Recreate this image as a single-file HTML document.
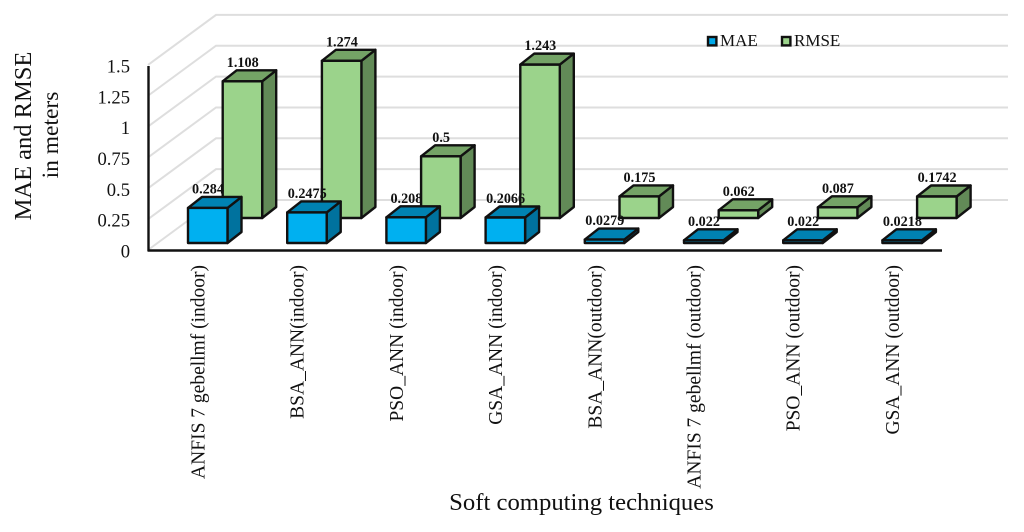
<!DOCTYPE html>
<html lang="en">
<head>
<meta charset="utf-8">
<title>MAE and RMSE of soft computing techniques</title>
<style>
html,body{margin:0;padding:0;background:#fff;width:1024px;height:532px;overflow:hidden}
svg{display:block}
text{font-family:"Liberation Serif",serif;fill:#111}
</style>
</head>
<body>
<svg id="chart" xmlns="http://www.w3.org/2000/svg" width="1024" height="532" viewBox="0 0 1024 532">
  <g id="grid"></g>
  <g id="bars"></g>
  <line x1="148.5" y1="66" x2="148.5" y2="251.5" stroke="#111" stroke-width="2.4"/>
  <line x1="148" y1="250.5" x2="942" y2="250.5" stroke="#111" stroke-width="2.4"/>
  <g id="ticks"></g>
  <g id="cats"></g>
  <g id="vals"></g>
  <g>
    <text transform="translate(31,136) rotate(-90)" text-anchor="middle" font-size="24.5">MAE and RMSE</text>
    <text transform="translate(58,135) rotate(-90)" text-anchor="middle" font-size="23.5">in meters</text>
  </g>
  <text x="581.5" y="510" text-anchor="middle" font-size="24.7">Soft computing techniques</text>
  <g>
    <g>
      <rect x="708" y="37" width="8.4" height="8.4" fill="#00A8E8" stroke="#111" stroke-width="2.4"/>
      <text x="720" y="46" font-size="17">MAE</text>
    </g>
    <g>
      <rect x="782" y="37" width="8.4" height="8.4" fill="#9BD38B" stroke="#111" stroke-width="2.4"/>
      <text x="794" y="46" font-size="17">RMSE</text>
    </g>
  </g>
</svg>
<script>
const categories = ["ANFIS 7 gebellmf (indoor)", "BSA_ANN(indoor)", "PSO_ANN (indoor)", "GSA_ANN (indoor)", "BSA_ANN(outdoor)", "ANFIS 7 gebellmf (outdoor)", "PSO_ANN (outdoor)", "GSA_ANN (outdoor)"];
const maeValues = [0.284, 0.2475, 0.208, 0.2066, 0.0279, 0.022, 0.022, 0.0218];
const rmseValues = [1.108, 1.274, 0.5, 1.243, 0.175, 0.062, 0.087, 0.1742];
const tickValues = [0, 0.25, 0.5, 0.75, 1, 1.25, 1.5];

const NS = "http://www.w3.org/2000/svg";
const UNIT = 123.4;
const CAT_STEP = 99.2;
const hOf = function (v) { return v * UNIT; };
const yFront = function (v) { return 250 - hOf(v); };
const yBack = function (v) { return 200 - hOf(v); };
const xCat = function (i) { return 188 + CAT_STEP * i; };

function el(parent, tag, attrs, text) {
  const n = document.createElementNS(NS, tag);
  for (const k in attrs) n.setAttribute(k, attrs[k]);
  if (text !== undefined) n.textContent = text;
  parent.appendChild(n);
  return n;
}

const grid = document.getElementById("grid");
tickValues.forEach(function (t) {
  const line = el(grid, "polyline", {
    points: "148," + yFront(t) + " 216," + yBack(t) + " 1008," + yBack(t),
    fill: "none", stroke: "#dedede", "stroke-width": 2
  });
  
  

  const label = el(document.getElementById("ticks"), "text", {
    x: 130, y: yFront(t) + 7.5, "text-anchor": "end", "font-size": 18.6
  }, String(t));
  
  
});

function drawBar(x, bottom, v, front, top, side) {
  const w = 39.5, dx = 14, dy = 11, h = hOf(v), t = bottom - h;
  const g = el(document.getElementById("bars"), "g", { stroke: "#111", "stroke-width": 2.4, "stroke-linejoin": "round" });
  el(g, "polygon", { points: [x + w, t, x + w + dx, t - dy, x + w + dx, bottom - dy, x + w, bottom].join(" "), fill: side });
  el(g, "polygon", { points: [x, t, x + dx, t - dy, x + w + dx, t - dy, x + w, t].join(" "), fill: top });
  el(g, "rect", { x: x, y: t, width: w, height: h, fill: front });
  return g;
}

const vals = document.getElementById("vals");
function drawValue(x, bottom, v) {
  const label = el(vals, "text", {
    x: x + 20, y: bottom - hOf(v) - 11 - 3.5, "text-anchor": "middle",
    "font-size": 14.2, "font-weight": "bold"
  }, String(v));
  return label;
}

rmseValues.forEach(function (v, i) {
  const bar = drawBar(xCat(i) + 34.7, 218, v, "#9BD38B", "#74A366", "#628A57");
  
  
});
maeValues.forEach(function (v, i) {
  const bar = drawBar(xCat(i), 243, v, "#00B0F0", "#0082B2", "#00729E");
  
  
});
rmseValues.forEach(function (v, i) {
  const label = drawValue(xCat(i) + 34.7, 218, v);
  
  
});
maeValues.forEach(function (v, i) {
  const label = drawValue(xCat(i), 243, v);
  
  
});

categories.forEach(function (c, i) {
  const x = 204.5 + CAT_STEP * i;
  const label = el(document.getElementById("cats"), "text", {
    transform: "translate(" + x + ",265) rotate(-90)", "text-anchor": "end", "font-size": 19.5
  }, c);
  
  
});
</script>
</body>
</html>
